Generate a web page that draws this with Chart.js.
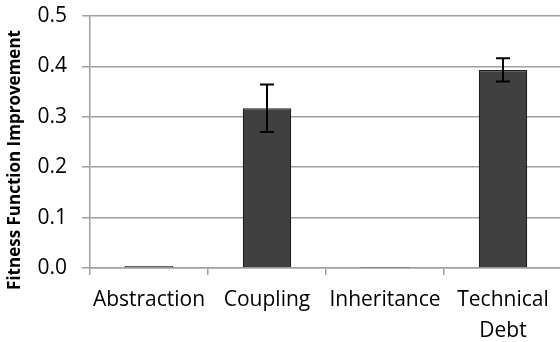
<!DOCTYPE html>
<html>
<head>
<meta charset="utf-8">
<script src="https://cdn.jsdelivr.net/npm/chart.js@4/dist/chart.umd.min.js"></script>
<style>
    html, body { margin: 0; padding: 0; background: #fff; overflow: hidden; }
    .wrap { width: 562px; height: 342px; }
</style>
</head>
<body>
<div class="wrap"><canvas id="myChart"></canvas></div>
<script>
const categories = ['Abstraction', 'Coupling', 'Inheritance', ['Technical', 'Debt']];
const improvement = [0.004, 0.317, 0.0006, 0.393];
const errorMargin = [0, 0.047, 0, 0.023];
const yTicks = [0, 0.1, 0.2, 0.3, 0.4, 0.5];

// error bars drawn from the y scale
const errorBars = {
    id: 'errorBars',
    afterDatasetsDraw(chart) {
        const ctx = chart.ctx;
        const y = chart.scales.y;
        const meta = chart.getDatasetMeta(0);
        ctx.save();
        ctx.strokeStyle = '#000';
        ctx.lineWidth = 2;
        meta.data.forEach((bar, i) => {
            const err = errorMargin[i];
            if (!err) return;
            const top = y.getPixelForValue(improvement[i] + err);
            const bottom = y.getPixelForValue(improvement[i] - err);
            ctx.beginPath();
            ctx.moveTo(bar.x, top);
            ctx.lineTo(bar.x, bottom);
            ctx.moveTo(bar.x - 7, top);
            ctx.lineTo(bar.x + 7, top);
            ctx.moveTo(bar.x - 7, bottom);
            ctx.lineTo(bar.x + 7, bottom);
            ctx.stroke();
        });
        ctx.restore();
    }
};

// y axis title, placed like the original
const yTitle = {
    id: 'yTitle',
    afterDraw(chart) {
        const ctx = chart.ctx;
        ctx.save();
        ctx.translate(15, 160);
        ctx.rotate(-Math.PI / 2);
        ctx.font = 'bold 17px "Open Sans"';
        ctx.fillStyle = '#000';
        ctx.textAlign = 'center';
        ctx.textBaseline = 'middle';
        ctx.fillText('Fitness Function Improvement', 0, 0);
        ctx.restore();
    }
};

const config = {
    type: 'bar',
    data: {
        labels: categories,
        datasets: [{
            data: improvement,
            backgroundColor: '#404040',
            borderColor: '#1c1c1c',
            borderWidth: 1.2,
            categoryPercentage: 1,
            barPercentage: 0.41
        }]
    },
    options: {
        responsive: true,
        maintainAspectRatio: false,
        animation: false,
        layout: { padding: { top: 16, left: 0, right: 0, bottom: 0 } },
        scales: {
            x: {
                offset: true,
                afterFit: (scale) => { scale.height = 74; },
                grid: {
                    drawOnChartArea: false,
                    drawTicks: true,
                    tickLength: 7,
                    color: '#a0a0a0',
                    lineWidth: 1.5
                },
                border: { color: '#a0a0a0', width: 1.5 },
                ticks: {
                    color: '#000',
                    padding: 10,
                    maxRotation: 0,
                    font: { family: 'Open Sans', size: 21, lineHeight: 1.45 }
                }
            },
            y: {
                min: 0,
                max: 0.5,
                afterFit: (scale) => {
                    scale.width = 90;
                    scale.paddingTop = 0;
                    scale.paddingBottom = 0;
                },
                afterBuildTicks: (scale) => { scale.ticks = yTicks.map(v => ({ value: v })); },
                grid: {
                    color: '#a0a0a0',
                    lineWidth: 1.5,
                    tickLength: 8
                },
                border: { color: '#a0a0a0', width: 1.5 },
                ticks: {
                    color: '#000',
                    padding: 15,
                    font: { family: 'Open Sans', size: 21 },
                    callback: (v) => v.toFixed(1)
                }
            }
        },
        plugins: {
            legend: { display: false },
            tooltip: { enabled: false }
        }
    },
    plugins: [errorBars, yTitle]
};

const myChart = new Chart(document.getElementById('myChart'), config);
</script>
</body>
</html>
